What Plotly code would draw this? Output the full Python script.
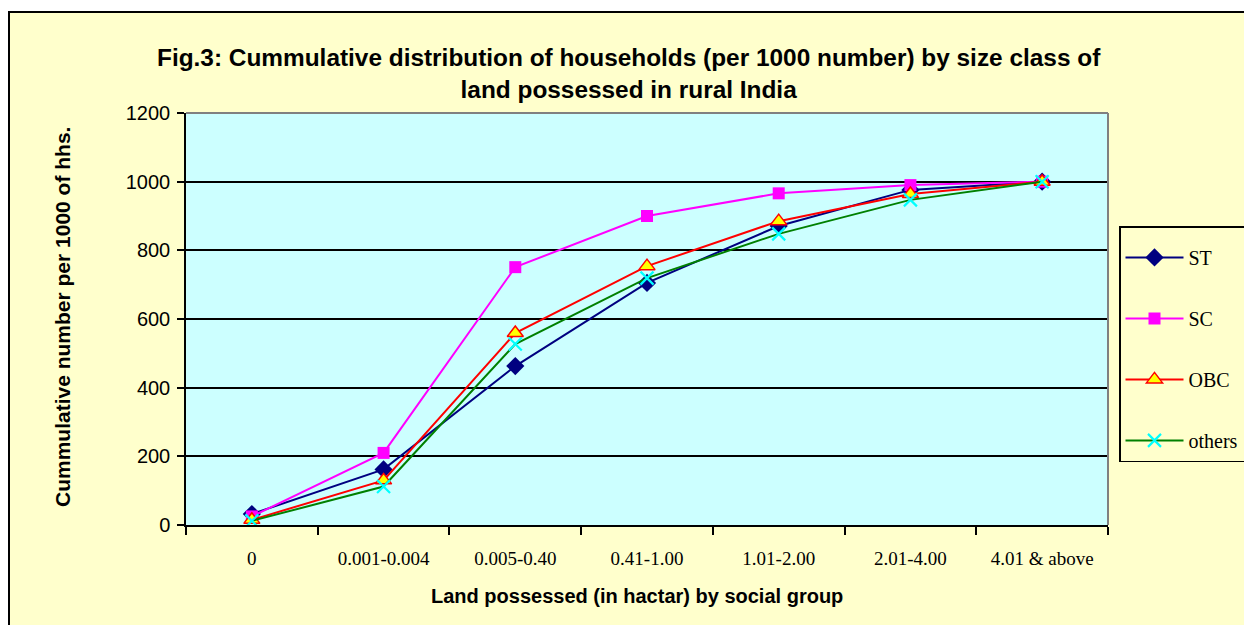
import plotly.graph_objects as go

categories = ["0", "0.001-0.004", "0.005-0.40", "0.41-1.00", "1.01-2.00", "2.01-4.00", "4.01 & above"]
st_vals = [32, 162, 463, 705, 871, 976, 1000]
sc_vals = [25, 210, 751, 900, 966, 990, 1000]
obc_vals = [15, 130, 559, 754, 885, 964, 1000]
others_vals = [12, 112, 527, 719, 848, 947, 1000]
y_ticks = [0, 200, 400, 600, 800, 1000, 1200]

title_text = ("Fig.3: Cummulative distribution of households (per 1000 number) by size class of<br>"
              "land possessed in rural India")
x_title = "Land possessed (in hactar) by social group"
y_title = "Cummulative number per 1000 of hhs."

fig = go.Figure()

series = [
    ("ST", st_vals, "#000080", dict(symbol="diamond", size=14, color="#000080", line=dict(width=0))),
    ("SC", sc_vals, "#FF00FF", dict(symbol="square", size=12, color="#FF00FF", line=dict(width=0))),
    ("OBC", obc_vals, "#FF0000", dict(symbol="triangle-up", size=14, color="#FFFF00", line=dict(width=1.5, color="#FF0000"))),
    ("others", others_vals, "#008000", dict(symbol="x-thin", size=13, color="#00FFFF", line=dict(width=2.2, color="#00FFFF"))),
]
for name, vals, lc, mk in series:
    fig.add_trace(go.Scatter(
        x=categories, y=vals, name=name, mode="lines+markers",
        line=dict(color=lc, width=2), marker=mk, legendgroup=name,
    ))

L, R, T, B = 186, 1108, 113, 525
W, H = 1244, 625
pw, ph = R - L, B - T

def px_x(p):
    return (p - L) / pw

def px_y(p):
    return (B - p) / ph

fig.update_layout(
    width=W, height=H,
    margin=dict(l=L, r=W - R, t=T, b=H - B),
    paper_bgcolor="white",
    plot_bgcolor="#CCFFFF",
    showlegend=True,
    legend=dict(
        xref="container", yref="container",
        x=1119 / W, xanchor="left", y=1 - 226 / H, yanchor="top",
        bgcolor="#FFFFCC", bordercolor="black", borderwidth=1.5,
        font=dict(family="Liberation Serif, Times New Roman, serif", size=20, color="black"),
        tracegroupgap=32, itemwidth=58,
        title=dict(text=" ", font=dict(size=8)),
    ),
    xaxis=dict(
        type="category", range=[-0.5, 6.5],
        showgrid=False, showline=True, linecolor="black", linewidth=1.5,
        ticks="outside", tickson="boundaries", ticklen=8, tickwidth=1.5, tickcolor="black",
        tickfont=dict(family="Liberation Serif, Times New Roman, serif", size=19, color="black"),
        ticklabelstandoff=15,
    ),
    yaxis=dict(
        range=[0, 1200], tickvals=y_ticks,
        showgrid=True, gridcolor="black", gridwidth=1.5,
        showline=True, linecolor="black", linewidth=1.5,
        ticks="outside", ticklen=7, tickwidth=1.5, tickcolor="black",
        tickfont=dict(family="Liberation Sans, Arial, sans-serif", size=20, color="black"),
        ticklabelstandoff=3,
        zeroline=False,
    ),
    shapes=[
        dict(type="rect", xref="paper", yref="paper",
             x0=px_x(9), x1=px_x(1260), y0=px_y(640), y1=px_y(12),
             fillcolor="#FFFFCC", line=dict(color="black", width=2), layer="below"),
        dict(type="rect", xref="paper", yref="paper",
             x0=0, x1=1, y0=0, y1=1,
             fillcolor="#CCFFFF", line=dict(width=0), layer="below"),
        dict(type="line", xref="paper", yref="paper", x0=0, x1=1, y0=1, y1=1,
             line=dict(color="#808080", width=2), layer="above"),
        dict(type="line", xref="paper", yref="paper", x0=1, x1=1, y0=0, y1=1,
             line=dict(color="#808080", width=2), layer="above"),
    ],
    annotations=[
        dict(text="<b>" + title_text + "</b>", xref="paper", yref="paper",
             x=px_x(629), y=px_y(73), xanchor="center", yanchor="middle",
             showarrow=False, align="center",
             font=dict(family="Liberation Sans, Arial, sans-serif", size=24.4, color="black")),
        dict(text="<b>" + x_title + "</b>", xref="paper", yref="paper",
             x=px_x(637), y=px_y(596), xanchor="center", yanchor="middle",
             showarrow=False,
             font=dict(family="Liberation Sans, Arial, sans-serif", size=20, color="black")),
        dict(text="<b>" + y_title + "</b>", xref="paper", yref="paper",
             x=px_x(62), y=px_y(317), xanchor="center", yanchor="middle",
             showarrow=False, textangle=-90,
             font=dict(family="Liberation Sans, Arial, sans-serif", size=21, color="black")),
    ],
)

fig.write_html("out.html", config={"displayModeBar": False},
               post_script="document.body.style.margin='0';document.body.style.overflow='hidden';")
